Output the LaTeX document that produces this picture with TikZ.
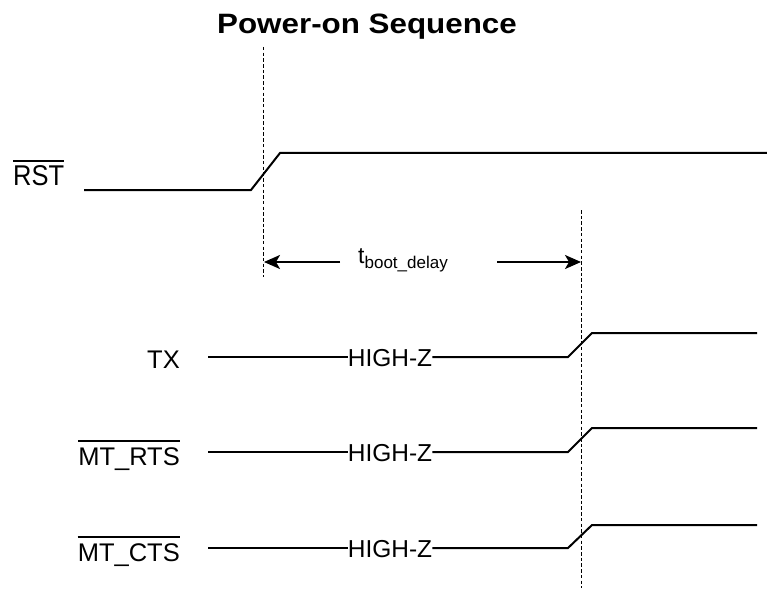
\documentclass[tikz,border=0pt]{standalone}
\usepackage{fontspec}
\setmainfont{Liberation Sans}
\usetikzlibrary{arrows.meta}
\begin{document}
\begin{tikzpicture}[x=1pt,y=-1pt,
 sig/.style={line width=2pt, line join=miter},
 guide/.style={line width=1.6pt, dash pattern=on 3.5pt off 2.2pt},
 lbl/.style={font=\fontsize{25.5}{26}\selectfont, inner sep=0pt},
 hzl/.style={font=\fontsize{24.5}{25}\selectfont, inner sep=0pt},
 arr/.style={line width=2pt, -{Stealth[length=16pt,width=14pt,inset=4pt]}},
 ovl/.style={line width=1.5pt}]
\useasboundingbox (0,0) rectangle (767,588);

% title
\node[anchor=base, inner sep=0pt, font=\bfseries\fontsize{28}{28}\selectfont] (title) at (367,34) {\scalebox{1.12}[1]{Power-on Sequence}};

% guide lines
\coordinate (d1t) at (263.5,47);
\coordinate (d1b) at (263.5,277);
\coordinate (d2t) at (581.5,210);
\coordinate (d2b) at (581.5,588);
\draw[guide] (d1t) -- (d1b);
\draw[guide] (d2t) -- (d2b);

% RST
\node[lbl, anchor=base west, font=\fontsize{26}{26}\selectfont] (rst) at (13,185) {\scalebox{0.98}[1.1]{RST}};
\draw[ovl] ([yshift=4pt]rst.north west) -- ([yshift=4pt]rst.north east);
\coordinate (r0) at (84,190);
\coordinate (r1) at (251,190);
\coordinate (r2) at (280,153);
\coordinate (r3) at (767,153);
\draw[sig] (r0) -- (r1) -- (r2) -- (r3);

% boot delay
\node[inner sep=0pt, anchor=base west] (tb) at (358,263) {{\fontsize{23}{23}\selectfont t}\raisebox{-5pt}{\fontsize{17}{17}\selectfont boot\_delay}};
\coordinate (a1) at (340,262);
\coordinate (a1t) at (264,262);
\coordinate (a2) at (497,262);
\coordinate (a2t) at (581,262);
\draw[arr] (a1) -- (a1t);
\draw[arr] (a2) -- (a2t);

% TX
\node[lbl, anchor=base east] (tx) at (180,368) {TX};
\node[hzl] (h1) at (390,358) {HIGH-Z};
\coordinate (t0) at (208,357);
\coordinate (t1) at (568,357);
\coordinate (t2) at (592,333);
\coordinate (t3) at (757,333);
\draw[sig] (t0) -- (t0 -| h1.west);
\draw[sig] (h1.east |- t0) -- (t1) -- (t2) -- (t3);

% MT_RTS
\node[lbl, anchor=base east] (rts) at (180,465) {MT\_RTS};
\draw[ovl] ([yshift=6pt]rts.north west) -- ([yshift=6pt]rts.north east);
\node[hzl] (h2) at (390,453) {HIGH-Z};
\coordinate (m0) at (208,452);
\coordinate (m1) at (568,452);
\coordinate (m2) at (592,428);
\coordinate (m3) at (757,428);
\draw[sig] (m0) -- (m0 -| h2.west);
\draw[sig] (h2.east |- m0) -- (m1) -- (m2) -- (m3);

% MT_CTS
\node[lbl, anchor=base east] (cts) at (180,561) {MT\_CTS};
\draw[ovl] ([yshift=6pt]cts.north west) -- ([yshift=6pt]cts.north east);
\node[hzl] (h3) at (390,549) {HIGH-Z};
\coordinate (c0) at (208,548);
\coordinate (c1) at (568,548);
\coordinate (c2) at (592,525);
\coordinate (c3) at (757,525);
\draw[sig] (c0) -- (c0 -| h3.west);
\draw[sig] (h3.east |- c0) -- (c1) -- (c2) -- (c3);
\end{tikzpicture}
\end{document}
